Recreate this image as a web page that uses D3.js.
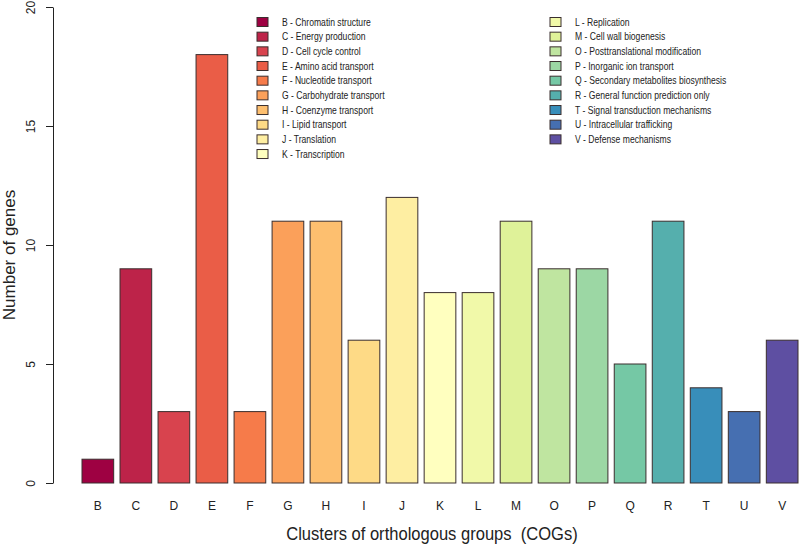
<!DOCTYPE html>
<html>
<head>
<meta charset="utf-8">
<script src="https://cdn.jsdelivr.net/npm/d3@7"></script>
<style>
  body { margin: 0; background: #fff; }
  svg { font-family: "Liberation Sans", Arial, sans-serif; }
</style>
</head>
<body>
<svg id="chart" width="800" height="544"></svg>
<script>
var categories = ["B","C","D","E","F","G","H","I","J","K","L","M","O","P","Q","R","T","U","V"];
var descriptions = ["Chromatin structure","Energy production","Cell cycle control","Amino acid transport",
  "Nucleotide transport","Carbohydrate transport","Coenzyme transport","Lipid transport","Translation",
  "Transcription","Replication","Cell wall biogenesis","Posttranslational modification",
  "Inorganic ion transport","Secondary metabolites biosynthesis","General function prediction only",
  "Signal transduction mechanisms","Intracellular trafficking","Defense mechanisms"];
var genes = [1,9,3,18,3,11,11,6,12,8,8,11,9,9,5,11,4,3,6];
var yTicks = [0,5,10,15,20];

var spectral = ["#9E0142","#D53E4F","#F46D43","#FDAE61","#FEE08B","#FFFFBF","#E6F598","#ABDDA4","#66C2A5","#3288BD","#5E4FA2"];
// linear ramp like colorRampPalette
var ramp = d3.scaleLinear()
  .domain(d3.range(spectral.length).map(function(i){ return i/(spectral.length-1); }))
  .range(spectral)
  .interpolate(d3.interpolateRgb);
var colors = categories.map(function(d,i){ return ramp(i/(categories.length-1)); });

var svg = d3.select("#chart");

var xScale = d3.scaleBand().domain(categories).range([82, 798]).paddingInner(1/6).paddingOuter(0);
var yScale = d3.scaleLinear().domain([0, 20]).range([483, 7]);

// bars
svg.append("g").selectAll("rect")
  .data(genes)
  .enter().append("rect")
    .attr("x", function(d,i){ return xScale(categories[i]); })
    .attr("y", function(d){ return yScale(d); })
    .attr("width", xScale.bandwidth())
    .attr("height", function(d){ return yScale(0) - yScale(d); })
    .attr("fill", function(d,i){ return colors[i]; })
    .attr("stroke", "#3a2e2e")
    .attr("stroke-width", 1);

// y axis
var yAxis = svg.append("g")
  .attr("transform", "translate(53,0)")
  .call(d3.axisLeft(yScale).tickValues(yTicks).tickSizeOuter(0).tickSizeInner(7).tickFormat(d3.format("d")));
yAxis.select(".domain").attr("stroke", "#222");
yAxis.selectAll(".tick line").attr("stroke", "#222");
yAxis.selectAll(".tick text")
  .attr("font-size", 12)
  .attr("fill", "#222")
  .attr("x", null).attr("dy", null)
  .attr("text-anchor", "middle")
  .attr("transform", "translate(-18,0)rotate(-90)");

// x labels
var xAxis = svg.append("g")
  .attr("transform", "translate(0,498)")
  .call(d3.axisBottom(xScale).tickSize(0));
xAxis.select(".domain").remove();
xAxis.selectAll(".tick text").attr("font-size", 12).attr("fill", "#222").attr("dy", "0.71em");

// titles
svg.append("text")
  .attr("transform", "translate(432,540)scale(0.92,1)")
  .attr("text-anchor", "middle")
  .attr("font-size", 18)
  .attr("fill", "#222")
  .attr("xml:space", "preserve")
  .text("Clusters of orthologous groups  (COGs)");
svg.append("text")
  .attr("transform", "translate(15,255)rotate(-90)")
  .attr("text-anchor", "middle")
  .attr("font-size", 17)
  .attr("fill", "#222")
  .text("Number of genes");

// legend
var legend = svg.append("g");
var item = legend.selectAll("g")
  .data(categories)
  .enter().append("g")
    .attr("transform", function(d,i){
      var col = i < 10 ? 0 : 1, row = i < 10 ? i : i - 10;
      return "translate(" + (col ? 550 : 257) + "," + (22 + row*14.67) + ")";
    });
item.append("rect")
  .attr("x", 0).attr("y", -4.5)
  .attr("width", 11).attr("height", 9)
  .attr("fill", function(d,i){ return colors[i]; })
  .attr("stroke", "#3a2e2e")
  .attr("stroke-width", 1);
item.append("text")
  .attr("transform", "translate(25,0)scale(0.86,1)")
  .attr("dy", "0.36em")
  .attr("font-size", 10)
  .attr("fill", "#222")
  .text(function(d,i){ return d + " - " + descriptions[i]; });
</script>
</body>
</html>
